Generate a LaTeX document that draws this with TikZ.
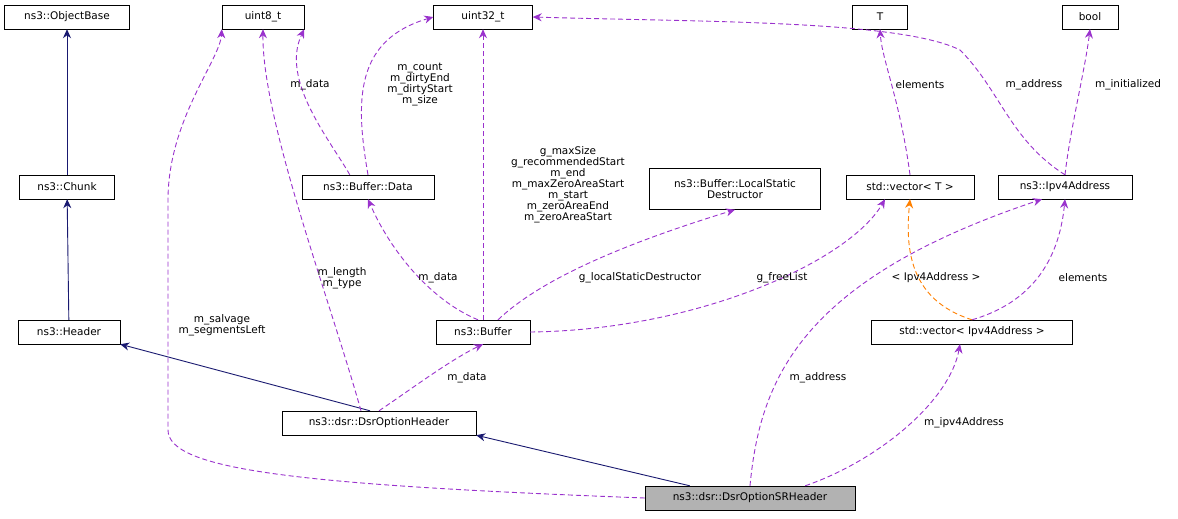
\documentclass[tikz,border=0pt]{standalone}
\usepackage{fontspec}
\setmainfont{DejaVu Sans}
\usetikzlibrary{arrows.meta}
\definecolor{usecol}{HTML}{9A32CD}
\definecolor{inhcol}{HTML}{191970}
\tikzset{
  cls/.style   = {shape=rectangle, draw, align=center, fill=white,
                  font=\fontsize{10.5}{11.5}\selectfont, minimum height=24pt,
                  inner sep=2pt},
  focus/.style = {cls, fill=black!30},
  inh/.style   = {draw=inhcol, line width=0.9pt, -{Stealth[length=9pt,width=8pt]}},
  use/.style   = {draw=usecol, line width=0.9pt, dash pattern=on 5pt off 3pt,
                  -{Stealth[length=9pt,width=8pt]}},
  tpl/.style   = {use, draw=orange},
  lbl/.style   = {font=\fontsize{10.5}{11}\selectfont, align=center, inner sep=1pt}
}
\begin{document}
\begin{tikzpicture}[x=1pt, y=-1pt]
  \fill[white] (0,0) rectangle (1178,519);
  \useasboundingbox (0,0) rectangle (1178,519);

  % classes
  \node[cls, minimum width=125pt] (objbase) at (67,17)  {ns3::ObjectBase};
  \node[cls, minimum width=82pt]  (u8)      at (263,17) {uint8\_t};
  \node[cls, minimum width=99pt]  (u32)     at (483,17) {uint32\_t};
  \node[cls, minimum width=55pt]  (t)       at (880,17) {T};
  \node[cls, minimum width=56pt]  (bool)    at (1090,17) {bool};
  \node[cls, minimum width=95pt]  (chunk)   at (67,187) {ns3::Chunk};
  \node[cls, minimum width=132pt] (bdata)   at (368,187) {ns3::Buffer::Data};
  \node[cls, minimum width=171pt, minimum height=41pt] (lsd) at (735,189)
        {ns3::Buffer::LocalStatic\\Destructor};
  \node[cls, minimum width=128pt] (vect)    at (910,187) {std::vector< T >};
  \node[cls, minimum width=134pt] (ipv4)    at (1065,187) {ns3::Ipv4Address};
  \node[cls, minimum width=102pt] (header)  at (69,332) {ns3::Header};
  \node[cls, minimum width=94pt]  (buffer)  at (483,332) {ns3::Buffer};
  \node[cls, minimum width=201pt] (vecip)   at (972,332) {std::vector< Ipv4Address >};
  \node[cls, minimum width=194pt] (opthdr)  at (379,423) {ns3::dsr::DsrOptionHeader};
  \node[focus, minimum width=210pt] (srhdr) at (750,498) {ns3::dsr::DsrOptionSRHeader};

  % anchor points
  \path (opthdr.north) ++(-9,0) coordinate (oh1);
  \path (opthdr.north) ++(-18,0) coordinate (oh2);
  \path (srhdr.north west) ++(45,0) coordinate (sr1);
  \path (srhdr.north east) ++(-50,0) coordinate (sr2);
  \path (bdata.north west) ++(48,0) coordinate (bd1);
  \path (buffer.north) ++(15,0) coordinate (bf1);
  \path (buffer.north) ++(-5,0) coordinate (bf2);

  % inheritance
  \draw[inh] (chunk) -- (objbase);
  \draw[inh] (header) -- (chunk);
  \draw[inh] (oh1) -- (header.south east);
  \draw[inh] (sr1) -- (opthdr.south east);

  % usage
  \draw[use] (srhdr.west) .. controls (300,485) and (168,470) .. (168,430)
        -- (168,200) .. controls (168,120) and (220,60) .. (u8.south west);
  \node[lbl] at (222,325) {m\_salvage\\m\_segmentsLeft};
  \draw[use] (oh2) .. controls (330,300) and (262,120) .. (u8.south);
  \node[lbl] at (342,278) {m\_length\\m\_type};
  \draw[use] (bd1) .. controls (330,140) and (280,80) .. (u8.south east);
  \node[lbl] at (310,85) {m\_data};
  \draw[use] (bdata.north) .. controls (355,100) and (355,40) .. (u32.west);
  \node[lbl] at (420,85) {m\_count\\m\_dirtyEnd\\m\_dirtyStart\\m\_size};
  \draw[use] (buffer.north) -- (u32.south);
  \node[lbl] at (568,185) {g\_maxSize\\g\_recommendedStart\\m\_end\\m\_maxZeroAreaStart\\m\_start\\m\_zeroAreaEnd\\m\_zeroAreaStart};
  \draw[use] (bf2) .. controls (430,300) and (390,250) .. (bdata.south);
  \node[lbl] at (438,278) {m\_data};
  \draw[use] (bf1) .. controls (540,280) and (620,245) .. (lsd.south);
  \node[lbl] at (640,278) {g\_localStaticDestructor};
  \draw[use] (buffer.east) .. controls (700,330) and (850,260) .. (vect.south west -| 885,0);
  \node[lbl] at (782,278) {g\_freeList};
  \draw[use] (opthdr.north) .. controls (410,390) and (450,360) .. (buffer.south);
  \node[lbl] at (467,378) {m\_data};
  \draw[use] (vect.north) .. controls (900,100) and (882,60) .. (t.south);
  \node[lbl] at (920,85) {elements};
  \draw[use] (ipv4.north) .. controls (1010,140) and (1000,90) .. (960,50)
        .. controls (900,20) and (700,22) .. (u32.east);
  \node[lbl] at (1034,85) {m\_address};
  \draw[use] (ipv4.north) .. controls (1070,130) and (1085,70) .. (bool.south);
  \node[lbl] at (1128,85) {m\_initialized};
  \draw[tpl] (vecip.north) .. controls (910,300) and (905,250) .. (vect.south);
  \node[lbl] at (936,278) {< Ipv4Address >};
  \draw[use] (vecip.north) .. controls (1040,300) and (1060,250) .. (ipv4.south);
  \node[lbl] at (1083,278) {elements};
  \draw[use] (srhdr.north) .. controls (760,380) and (800,280) .. (ipv4.south -| 1042,0);
  \node[lbl] at (818,378) {m\_address};
  \draw[use] (sr2) .. controls (880,460) and (950,400) .. (vecip.south -| 960,0);
  \node[lbl] at (964,423) {m\_ipv4Address};
\end{tikzpicture}
\end{document}
